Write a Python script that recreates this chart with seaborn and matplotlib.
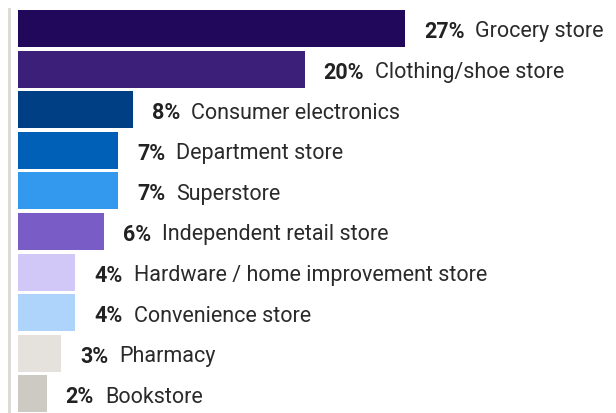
import pandas as pd
import matplotlib.pyplot as plt
import seaborn as sns
from matplotlib.transforms import offset_copy

stores = ["Grocery store", "Clothing/shoe store", "Consumer electronics",
          "Department store", "Superstore", "Independent retail store",
          "Hardware / home improvement store", "Convenience store",
          "Pharmacy", "Bookstore"]
shares = [27, 20, 8, 7, 7, 6, 4, 4, 3, 2]
colors = ["#22085a", "#3b1f78", "#003f83", "#0060b8", "#3399ee",
          "#7a5cc6", "#d2c8f8", "#aed4fb", "#e5e1dc", "#cdc9c3"]

df = pd.DataFrame({"store": stores, "share": shares})

sns.set_theme(style="white")
plt.rcParams["font.family"] = ["Roboto", "DejaVu Sans"]

fig = plt.figure(figsize=(6.16, 4.14), dpi=100)
ax = fig.add_axes([9 / 616, 0, 607 / 616, 404 / 414])

sns.barplot(data=df, x="share", y="store", hue="store", palette=colors,
            width=0.91, legend=False, ax=ax, saturation=1, linewidth=0)

px_per_unit = 14.33
ax.set_xlim(-9 / px_per_unit, -9 / px_per_unit + 607 / px_per_unit)
ax.set_ylim(-0.48 + 404 / 40.6, -0.48)
ax.set_xlabel("")
ax.set_ylabel("")
ax.set_xticks([])
ax.set_yticks([])
for side in ["top", "right", "bottom"]:
    ax.spines[side].set_visible(False)
ax.spines["left"].set_color("#dcd8d3")
ax.spines["left"].set_linewidth(2)

fig.canvas.draw()
renderer = fig.canvas.get_renderer()
for i, (s, v) in enumerate(zip(stores, shares)):
    tr = offset_copy(ax.transData, fig=fig, x=19, y=0, units="dots")
    t = ax.text(v, i, f"{v}%", transform=tr, fontsize=15.5, fontweight="bold",
                color="#222222", va="center_baseline", ha="left")
    bb = t.get_window_extent(renderer)
    tr2 = offset_copy(ax.transData, fig=fig, x=19 + bb.width + 11, y=0, units="dots")
    ax.text(v, i, s, transform=tr2, fontsize=15.5, color="#2a2a2a",
            va="center_baseline", ha="left")

fig.savefig("out.png", dpi=100)
